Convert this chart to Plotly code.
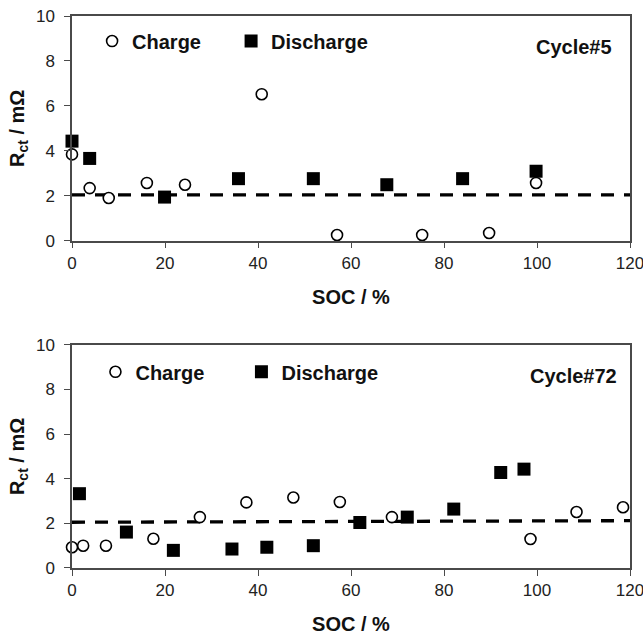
import plotly.graph_objects as go

# ---- Data: Cycle#5 (top) ----
c5_charge_soc = [0, 3.8, 7.9, 16.1, 24.3, 40.8, 57.0, 75.3, 89.7, 99.8]
c5_charge_rct = [3.84, 2.34, 1.90, 2.57, 2.49, 6.52, 0.25, 0.25, 0.34, 2.57]
c5_dis_soc = [0, 3.8, 19.9, 35.8, 51.9, 67.7, 84.0, 99.8]
c5_dis_rct = [4.43, 3.66, 1.94, 2.76, 2.76, 2.49, 2.76, 3.09]
c5_ref_soc = [0, 120]
c5_ref_rct = [2.04, 2.04]

# ---- Data: Cycle#72 (bottom) ----
c72_charge_soc = [0, 2.4, 7.3, 17.5, 27.5, 37.5, 47.6, 57.6, 68.8, 98.6, 108.5, 118.5]
c72_charge_rct = [0.93, 1.00, 1.00, 1.31, 2.28, 2.94, 3.16, 2.96, 2.28, 1.30, 2.51, 2.72]
c72_dis_soc = [1.6, 11.7, 21.8, 34.4, 41.9, 51.9, 61.9, 72.1, 82.1, 92.2, 97.2]
c72_dis_rct = [3.33, 1.61, 0.79, 0.85, 0.93, 1.00, 2.04, 2.28, 2.64, 4.28, 4.43]
c72_ref_soc = [0, 120]
c72_ref_rct = [2.05, 2.12]

x_ticks = [0, 20, 40, 60, 80, 100, 120]
y_ticks = [0, 2, 4, 6, 8, 10]

FONT = "Liberation Sans, Arial, sans-serif"

fig = go.Figure()

def add_panel(xa, ya, leg, ref_x, ref_y, ch_x, ch_y, di_x, di_y):
    fig.add_trace(go.Scatter(x=ref_x, y=ref_y, mode="lines", xaxis=xa, yaxis=ya,
                             line=dict(color="black", width=3.3, dash="13px,10px"),
                             showlegend=False, hoverinfo="skip"))
    fig.add_trace(go.Scatter(x=ch_x, y=ch_y, mode="markers", name="Charge",
                             xaxis=xa, yaxis=ya, legend=leg, cliponaxis=False,
                             marker=dict(symbol="circle", size=11, color="white",
                                         line=dict(color="black", width=1.6))))
    fig.add_trace(go.Scatter(x=di_x, y=di_y, mode="markers", name="Discharge",
                             xaxis=xa, yaxis=ya, legend=leg, cliponaxis=False,
                             marker=dict(symbol="square", size=13, color="black",
                                         line=dict(color="black", width=0))))

add_panel("x", "y", "legend", c5_ref_soc, c5_ref_rct,
          c5_charge_soc, c5_charge_rct, c5_dis_soc, c5_dis_rct)
add_panel("x2", "y2", "legend2", c72_ref_soc, c72_ref_rct,
          c72_charge_soc, c72_charge_rct, c72_dis_soc, c72_dis_rct)

axis_common = dict(showline=True, linecolor="#4a4a4a", linewidth=1.5, mirror=True,
                   ticks="outside", ticklen=6, tickwidth=1.3, tickcolor="#4a4a4a",
                   showgrid=False, zeroline=False, ticklabeloverflow="allow",
                   automargin=False,
                   tickfont=dict(family=FONT, size=17, color="#222"))

xcommon = dict(axis_common, range=[0, 120], tickvals=x_ticks,
               title=dict(text="SOC / %", standoff=18,
                          font=dict(family=FONT, size=20, color="#111", weight="bold")))
ycommon = dict(axis_common, range=[0, 10], tickvals=y_ticks, ticklabelstandoff=6,
               title=dict(text="R<sub>ct</sub> / mΩ", standoff=6,
                          font=dict(family=FONT, size=20, color="#111", weight="bold")))

top_dom = [0.593, 1.0]
bot_dom = [0.0, 0.4043]

leg_common = dict(orientation="h", xanchor="left", yanchor="middle",
                  bgcolor="rgba(0,0,0,0)", itemwidth=30, entrywidthmode="pixels",
                  font=dict(family=FONT, size=20, color="#111", weight="bold"))

fig.update_layout(
    width=643, height=636,
    margin=dict(l=72, r=13, t=16, b=68, autoexpand=False),
    paper_bgcolor="white", plot_bgcolor="white",
    xaxis=dict(xcommon, domain=[0, 1], anchor="y"),
    yaxis=dict(ycommon, domain=top_dom, anchor="x"),
    xaxis2=dict(xcommon, domain=[0, 1], anchor="y2"),
    yaxis2=dict(ycommon, domain=bot_dom, anchor="x2"),
    legend=dict(leg_common, x=0.036, entrywidth=94,
                y=top_dom[0] + (240.7 - 41) / 552.3),
    legend2=dict(leg_common, x=0.042, entrywidth=101,
                 y=bot_dom[0] + (568.3 - 372) / 552.3),
    annotations=[
        dict(text="Cycle#5", xref="x domain", yref="y domain", x=0.971, y=0.862,
             xanchor="right", yanchor="middle", showarrow=False,
             font=dict(family=FONT, size=20, color="#111", weight="bold")),
        dict(text="Cycle#72", xref="x2 domain", yref="y2 domain", x=0.980, y=0.861,
             xanchor="right", yanchor="middle", showarrow=False,
             font=dict(family=FONT, size=20, color="#111", weight="bold")),
    ],
)

fig.write_html("out.html")
